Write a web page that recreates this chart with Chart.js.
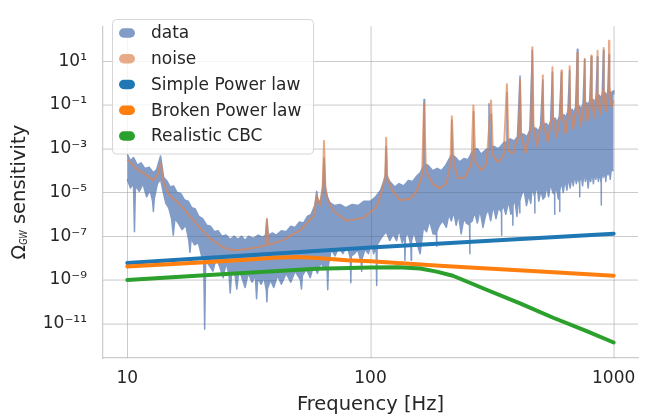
<!DOCTYPE html>
<html><head><meta charset="utf-8">
<script src="https://cdn.jsdelivr.net/npm/chart.js@4.4.0/dist/chart.umd.min.js"></script>
<style>html,body{margin:0;padding:0;background:#fff}#wrap{width:647px;height:418px;position:relative}</style>
</head><body><div id="wrap"><canvas id="c"></canvas></div>
<script>
// ---- tick labels ----
const xTicks = [10, 100, 1000];
const yTicks = [1e-11, 1e-9, 1e-7, 1e-5, 1e-3, 1e-1, 1e1];
const seriesNames = ['data', 'noise', 'Simple Power law', 'Broken Power law', 'Realistic CBC'];

// ---- data (upper edge of the measured spectrum band), values as log10 ----
const dataTopFreq = [10,10.3,10.6,11,11.4,11.8,12.3,12.8,13.2,13.7,14.1,14.6,15,15.5,16,16.6,17.2,17.8,18.4,19,19.7,20.4,21.2,22,22.8,23.6,24.5,25.5,26.5,27.5,28.5,29.5,30.5,31.5,33,34.5,36,37,37.5,38,39.5,41,43,45,47,49,51,53,55,57,59,60.1,61,62.5,63.6,64.4,65.2,66.5,68,71,75,79,84,89,94,100,105,110,115,116,117,121,126,131,137,143,149,155,160,165,166,167,172,180,188,196,204,211,215,216,217,224,232,242,252,260,264,265,266,275,285,295,302,306,307,308,312,313,314,322,335,345,355,363,364,365,375,390,402,412,416,428,440,452,463,467,478,490,500,511,515,528,540,550,560,564,575,585,598,610,614,625,636,648,659,663,674,685,697,709,713,724,735,748,760,764,775,785,797,809,813,824,835,846,857,861,872,885,897,908,912,923,935,946,957,961,972,985,995,1000];
const dataTopLog = [-3.25,-3.55,-3.4,-3.75,-3.65,-3.9,-3.85,-4.1,-3.95,-3.33,-4.3,-4.5,-4.75,-4.7,-5.0,-5.05,-5.35,-5.4,-5.7,-5.75,-6.1,-6.2,-6.5,-6.55,-6.8,-6.75,-7.0,-6.95,-7.15,-7.0,-7.15,-7.0,-7.2,-7.0,-7.1,-6.95,-7.05,-6.95,-6.25,-6.95,-6.85,-6.95,-6.75,-6.8,-6.55,-6.6,-6.35,-6.4,-6.1,-6.0,-5.6,-4.95,-5.5,-5.3,-4.8,-3.43,-4.8,-5.2,-5.45,-5.6,-5.55,-5.7,-5.55,-5.6,-5.4,-5.4,-5.2,-4.9,-4.3,-2.9,-4.3,-4.55,-4.75,-4.6,-4.7,-4.45,-4.5,-4.25,-4.1,-3.8,-0.75,-3.7,-3.75,-4.0,-3.9,-4.0,-3.75,-3.45,-3.3,-1.7,-3.3,-3.4,-3.6,-3.45,-3.5,-3.2,-3.1,-1.3,-3.0,-3.0,-3.25,-3.1,-3.0,-3.0,-0.94,-3.0,-2.9,-1.43,-2.9,-2.9,-3.0,-2.85,-2.7,-2.7,-0.43,-2.6,-2.55,-2.65,-2.45,0.32,-2.3,-2.35,-2.45,-2.15,1.5,-2.1,-2.05,-2.2,-1.95,0.14,-1.9,-1.85,-2.0,-1.75,0.51,-1.7,-1.6,-1.8,-1.5,0.5,-1.5,-1.45,-1.55,-1.3,0.6,-1.3,-1.2,-1.35,-1.1,1.55,-1.15,-1.05,-1.2,-0.95,1.1,-1.0,-0.9,-1.0,-0.8,1.2,-0.85,-0.75,-0.9,-0.65,1.2,-0.7,-0.55,-0.7,-0.5,1.5,-0.55,-0.45,-0.6,-0.4,1.3,-0.5,-0.4,-0.45,-0.35,-0.5];

// ---- data (lower edge of the band, with the dips), values as log10 ----
const dataLowFreq = [10,10.3,10.6,10.7,10.8,11.2,11.6,12,12.4,12.7,12.8,12.9,13.3,13.7,14,14.4,14.8,15.2,15.45,15.7,16.2,16.8,17.4,17.9,18.1,18.3,18.9,19.6,20.2,20.6,20.8,21,21.6,22.5,23.2,24,24.8,25.5,26.2,26.5,26.8,27.6,28.2,28.8,29.6,30.5,31.4,32.6,33.6,34,34.4,35.5,36.5,37.3,37.5,37.7,38.8,40,41.5,43,45,47,49,51.5,52,52.5,54.5,56.5,58.5,60.5,62.5,64.5,66.2,66.7,67.2,69,71.5,74,77,80,82.6,83,83.4,86,88.5,91.5,92,92.5,95,98,101,103,105.5,106,106.5,109,112,116,120,124,128,131,135,138,138.6,139.2,143,146.5,147,147.5,151,155,160,165,170,175,181,186.5,187,187.5,192,198,205,210,215,220,225,230,236,242,248,255.5,256,256.5,262,268,275,282,290,298,305,312,320,328,336,345.5,346,346.5,352,360,370,378,384.5,385,385.5,392,400,406,410.5,411,411.5,418,428,438,448,456,462,473.5,474,474.5,484,492,502,512,521,530,540,550,562,571.5,572,572.5,582,592,599.5,600,600.5,610,620,632,642,652,662,672,682,692,702,712,724.5,725,725.5,735,745,755,765,775,785,795,805,815,825,835,845,855,865,875,888.5,889,889.5,898,908,918,928,938,948,958,968,978,990,1000];
const dataLowLog = [-4.4,-4.8,-4.6,-6.8,-4.7,-4.95,-4.6,-5.2,-4.9,-5.4,-5.87,-5.3,-4.6,-4.4,-4.9,-5.5,-5.7,-6.2,-6.96,-6.2,-6.4,-6.7,-6.5,-7.2,-7.74,-7.1,-7.4,-7.3,-7.9,-8.0,-11.25,-8.0,-8.3,-8.6,-8.0,-8.4,-8.9,-8.2,-8.8,-9.6,-8.8,-8.6,-9.42,-8.5,-8.9,-9.35,-8.7,-9.1,-8.8,-9.86,-8.9,-9.2,-8.9,-9.5,-10.0,-9.4,-9.0,-9.35,-8.8,-9.2,-8.7,-9.1,-8.6,-9.0,-9.42,-8.8,-8.5,-8.9,-8.3,-8.7,-8.2,-8.5,-8.3,-9.45,-8.3,-7.6,-7.9,-7.5,-7.8,-7.4,-8.0,-9.13,-7.9,-7.8,-7.6,-8.2,-8.6,-8.0,-7.6,-7.8,-7.3,-7.8,-7.5,-9.26,-7.4,-7.2,-7.0,-6.8,-7.2,-6.9,-7.2,-6.7,-7.3,-7.0,-8.1,-7.0,-6.9,-7.4,-8.1,-7.2,-6.8,-7.3,-7.8,-6.6,-6.8,-6.3,-6.9,-6.9,-7.46,-6.8,-6.5,-6.3,-6.6,-6.0,-6.3,-5.9,-6.5,-6.0,-6.9,-6.2,-6.4,-6.5,-7.8,-6.4,-6.3,-5.9,-6.4,-5.8,-6.6,-6.0,-5.8,-6.3,-5.6,-6.2,-5.7,-5.9,-6.96,-5.8,-5.6,-6.0,-5.4,-6.0,-5.8,-6.5,-5.6,-5.3,-6.1,-5.4,-5.5,-5.94,-5.4,-5.1,-4.9,-5.6,-5.1,-5.5,-4.8,-5.2,-5.94,-5.1,-4.7,-5.4,-4.9,-5.3,-5.2,-4.7,-5.2,-4.6,-5.0,-5.1,-6.0,-5.0,-4.8,-5.3,-5.0,-5.87,-4.9,-4.5,-5.0,-4.4,-4.9,-4.3,-4.8,-4.3,-4.7,-4.2,-4.6,-4.3,-4.6,-5.2,-4.5,-4.2,-4.7,-4.1,-4.5,-4.1,-4.8,-4.2,-4.5,-4.0,-4.6,-4.1,-4.4,-4.0,-4.5,-4.1,-4.6,-5.58,-4.5,-4.0,-4.3,-3.95,-4.5,-3.9,-4.2,-3.9,-4.4,-3.9,-4.0,-4.0];

// ---- noise curve, values as log10 ----
const noiseFreq = [10,11,11.7,12.8,13.3,13.7,14.1,14.8,16,17,18.1,19.3,20.6,21.9,23.3,24.8,26.5,28.2,30,32,35,37,37.5,38,43.9,51.3,58.2,60.1,62,63.6,64.4,65.2,66.5,70.3,79.8,93.4,106,112,115,116,117,122,132,145,155,163,166,169,181,193,205,213,216,220,229,244,260,265,270,286,300,313,319,335,353,364,370,385,408,412,416,434,458,463,468,482,508,511,514,535,557,560,563,582,607,610,613,633,656,659,662,681,706,709,712,732,757,760,763,780,806,809,812,833,854,857,860,881,905,908,911,929,954,957,960,980,1000];
const noiseLog = [-3.5,-3.95,-4.13,-4.45,-4.2,-3.65,-4.55,-5.1,-5.43,-5.72,-6.09,-6.45,-6.81,-7.1,-7.32,-7.52,-7.62,-7.64,-7.6,-7.56,-7.48,-7.42,-6.2,-7.4,-7.17,-6.74,-6.09,-5.15,-5.6,-4.7,-2.65,-4.7,-5.3,-5.85,-6.3,-6.16,-5.65,-4.86,-4.2,-2.5,-4.2,-4.86,-5.36,-5.29,-4.95,-4.2,-0.95,-4.0,-4.64,-4.81,-4.57,-3.77,-1.52,-3.77,-4.35,-4.32,-3.7,-1.02,-3.62,-3.99,-3.7,-0.8,-3.33,-3.62,-3.26,-0.05,-3.1,-3.22,-2.3,0.15,-2.3,-3.19,-1.9,1.64,-1.9,-2.9,-1.7,0.36,-1.7,-2.68,-1.5,0.72,-1.5,-2.47,-1.3,0.58,-1.3,-2.32,-1.1,0.77,-1.1,-2.1,-0.9,1.39,-0.9,-1.96,-0.8,1.09,-0.8,-1.74,-0.6,1.26,-0.6,-1.6,-0.45,1.48,-0.45,-1.45,-0.3,1.6,-0.3,-1.3,-0.1,1.93,-0.1,-1.1,-0.8];

// ---- model spectra ----
const splFreq = [10, 100, 1000];
const splVal = [6e-9, 3e-8, 1.3e-7];
const bplFreq = [10, 20, 32, 40, 50, 60, 80, 100, 200, 500, 1000];
const bplVal = [4.1e-9, 6.3e-9, 8.5e-9, 1.02e-8, 1.12e-8, 1.0e-8, 7.9e-9, 7.1e-9, 4.3e-9, 2.45e-9, 1.55e-9];
const cbcFreq = [10, 20, 40, 60, 100, 130, 160, 187, 218, 256, 300, 412, 564, 770, 1000];
const cbcVal = [1e-9, 1.58e-9, 2.5e-9, 3.2e-9, 3.7e-9, 3.8e-9, 3.3e-9, 2.4e-9, 1.55e-9, 7.4e-10, 3.55e-10, 8.5e-11, 1.86e-11, 4.7e-12, 1.38e-12];

const fromLog = (fs, ls) => fs.map((f, i) => ({x: f, y: Math.pow(10, ls[i])}));
const fromVal = (fs, vs) => fs.map((f, i) => ({x: f, y: vs[i]}));

const DATA_COL = '#829cc8';
const NOISE_COL = 'rgba(221,132,82,0.7)';
const colors = [DATA_COL, '#e8aa88', '#1f77b4', '#ff7f0e', '#2ca02c'];
const FONT = "'DejaVu Sans', sans-serif";
const TXT = '#262626';

const supMap = {'-':'\u207B','0':'\u2070','1':'\u00B9','2':'\u00B2','3':'\u00B3','4':'\u2074','5':'\u2075','6':'\u2076','7':'\u2077','8':'\u2078','9':'\u2079'};
const sup = s => String(s).split('').map(c => supMap[c]).join('');

// grid seen through the data band
const gridOverlay = {
  id: 'gridOverlay',
  afterDatasetDraw(chart, args) {
    if (args.index !== 0) return;
    const {ctx, chartArea: a, scales} = chart;
    ctx.save();
    ctx.strokeStyle = 'rgba(0,0,0,0.118)';
    ctx.lineWidth = 1;
    ctx.beginPath();
    yTicks.forEach(v => { const y = Math.round(scales.y.getPixelForValue(v)) + 0.5; ctx.moveTo(a.left, y); ctx.lineTo(a.right, y); });
    xTicks.forEach(v => { const x = Math.round(scales.x.getPixelForValue(v)) + 0.5; ctx.moveTo(x, a.top); ctx.lineTo(x, a.bottom); });
    ctx.stroke();
    ctx.restore();
  }
};

const decorations = {
  id: 'decorations',
  afterDraw(chart) {
    const ctx = chart.ctx;
    const a = chart.chartArea;
    ctx.save();
    // x title
    ctx.fillStyle = TXT;
    ctx.font = "19.5px " + FONT;
    ctx.textAlign = 'center';
    ctx.textBaseline = 'middle';
    ctx.fillText('Frequency [Hz]', (a.left + a.right) / 2, 405);
    // y title, rotated: Omega_GW sensitivity
    ctx.save();
    ctx.translate(25, (a.top + a.bottom) / 2);
    ctx.rotate(-Math.PI / 2);
    ctx.textAlign = 'left';
    ctx.textBaseline = 'alphabetic';
    ctx.font = "19px " + FONT;
    const wO = ctx.measureText('\u03A9').width;
    ctx.font = "italic 11px " + FONT;
    const wG = ctx.measureText('GW').width * 0.75;
    ctx.font = "19.5px " + FONT;
    const wS = ctx.measureText(' sensitivity').width;
    let x0 = -(wO + wG + wS) / 2;
    ctx.font = "19px " + FONT;
    ctx.fillText('\u03A9', x0, 0);
    ctx.save();
    ctx.translate(x0 + wO, 2);
    ctx.scale(0.75, 1);
    ctx.font = "italic 11px " + FONT;
    ctx.fillText('GW', 0, 0);
    ctx.restore();
    ctx.font = "19.5px " + FONT;
    ctx.fillText(' sensitivity', x0 + wO + wG, 0);
    ctx.restore();

    // legend
    const lx = 112.5, ly = 19.5, lw = 201, lh = 134.5;
    ctx.beginPath();
    ctx.roundRect(lx, ly, lw, lh, 4);
    ctx.fillStyle = 'rgba(255,255,255,0.8)';
    ctx.fill();
    ctx.strokeStyle = '#d6d6d6';
    ctx.lineWidth = 1;
    ctx.stroke();
    ctx.font = "17px " + FONT;
    ctx.textAlign = 'left';
    ctx.textBaseline = 'middle';
    seriesNames.forEach((name, i) => {
      const cy = 33 + i * 25.75;
      ctx.beginPath();
      ctx.roundRect(119, cy - 4.75, 16, 9.5, 4.75);
      ctx.fillStyle = colors[i];
      ctx.fill();
      ctx.fillStyle = TXT;
      ctx.fillText(name, 151, cy + 1);
    });
    ctx.restore();
  }
};

Chart.defaults.font.family = FONT;
Chart.defaults.color = TXT;

new Chart(document.getElementById('c'), {
  type: 'line',
  data: {
    datasets: [
      {label: seriesNames[0], data: fromLog(dataTopFreq, dataTopLog), borderColor: DATA_COL, backgroundColor: DATA_COL, borderWidth: 1.5, fill: 1, order: 9},
      {label: 'data-low', data: fromLog(dataLowFreq, dataLowLog), borderColor: DATA_COL, backgroundColor: DATA_COL, borderWidth: 1.5, fill: false, order: 10},
      {label: seriesNames[1], data: fromLog(noiseFreq, noiseLog), borderColor: NOISE_COL, borderWidth: 2, fill: false, order: 4},
      {label: seriesNames[2], data: fromVal(splFreq, splVal), borderColor: '#1f77b4', borderWidth: 4, borderCapStyle: 'round', fill: false, order: 3},
      {label: seriesNames[3], data: fromVal(bplFreq, bplVal), borderColor: '#ff7f0e', borderWidth: 4, borderCapStyle: 'round', fill: false, order: 2},
      {label: seriesNames[4], data: fromVal(cbcFreq, cbcVal), borderColor: '#2ca02c', borderWidth: 4, borderCapStyle: 'round', fill: false, order: 1}
    ]
  },
  options: {
    responsive: true,
    maintainAspectRatio: false,
    animation: false,
    devicePixelRatio: 1,
    layout: {padding: {left: 0, right: 9, top: 10, bottom: 0}},
    elements: {point: {radius: 0, hoverRadius: 0}, line: {tension: 0, borderJoinStyle: 'round'}},
    plugins: {legend: {display: false}, tooltip: {enabled: false}},
    scales: {
      x: {
        type: 'logarithmic',
        min: Math.pow(10, 0.9),
        max: Math.pow(10, 3.1),
        afterBuildTicks: s => { s.ticks = xTicks.map(v => ({value: v})); },
        afterFit: s => { s.height = 60; },
        ticks: {callback: v => String(v), font: {size: 17}, color: TXT, padding: 10, autoSkip: false, maxRotation: 0},
        grid: {color: '#e7e7e7', lineWidth: 1, drawTicks: false},
        border: {display: true, color: '#cccccc', width: 1.25}
      },
      y: {
        type: 'logarithmic',
        min: Math.pow(10, -12.57),
        max: Math.pow(10, 2.6),
        afterBuildTicks: s => { s.ticks = yTicks.map(v => ({value: v})); },
        afterFit: s => { s.width = 103; },
        ticks: {callback: v => '10' + sup(Math.round(Math.log10(v))), font: {size: 17}, color: TXT, padding: 16, autoSkip: false},
        grid: {color: '#e7e7e7', lineWidth: 1, drawTicks: false},
        border: {display: true, color: '#cccccc', width: 1.25}
      }
    }
  },
  plugins: [gridOverlay, decorations]
});
</script>
</body></html>
